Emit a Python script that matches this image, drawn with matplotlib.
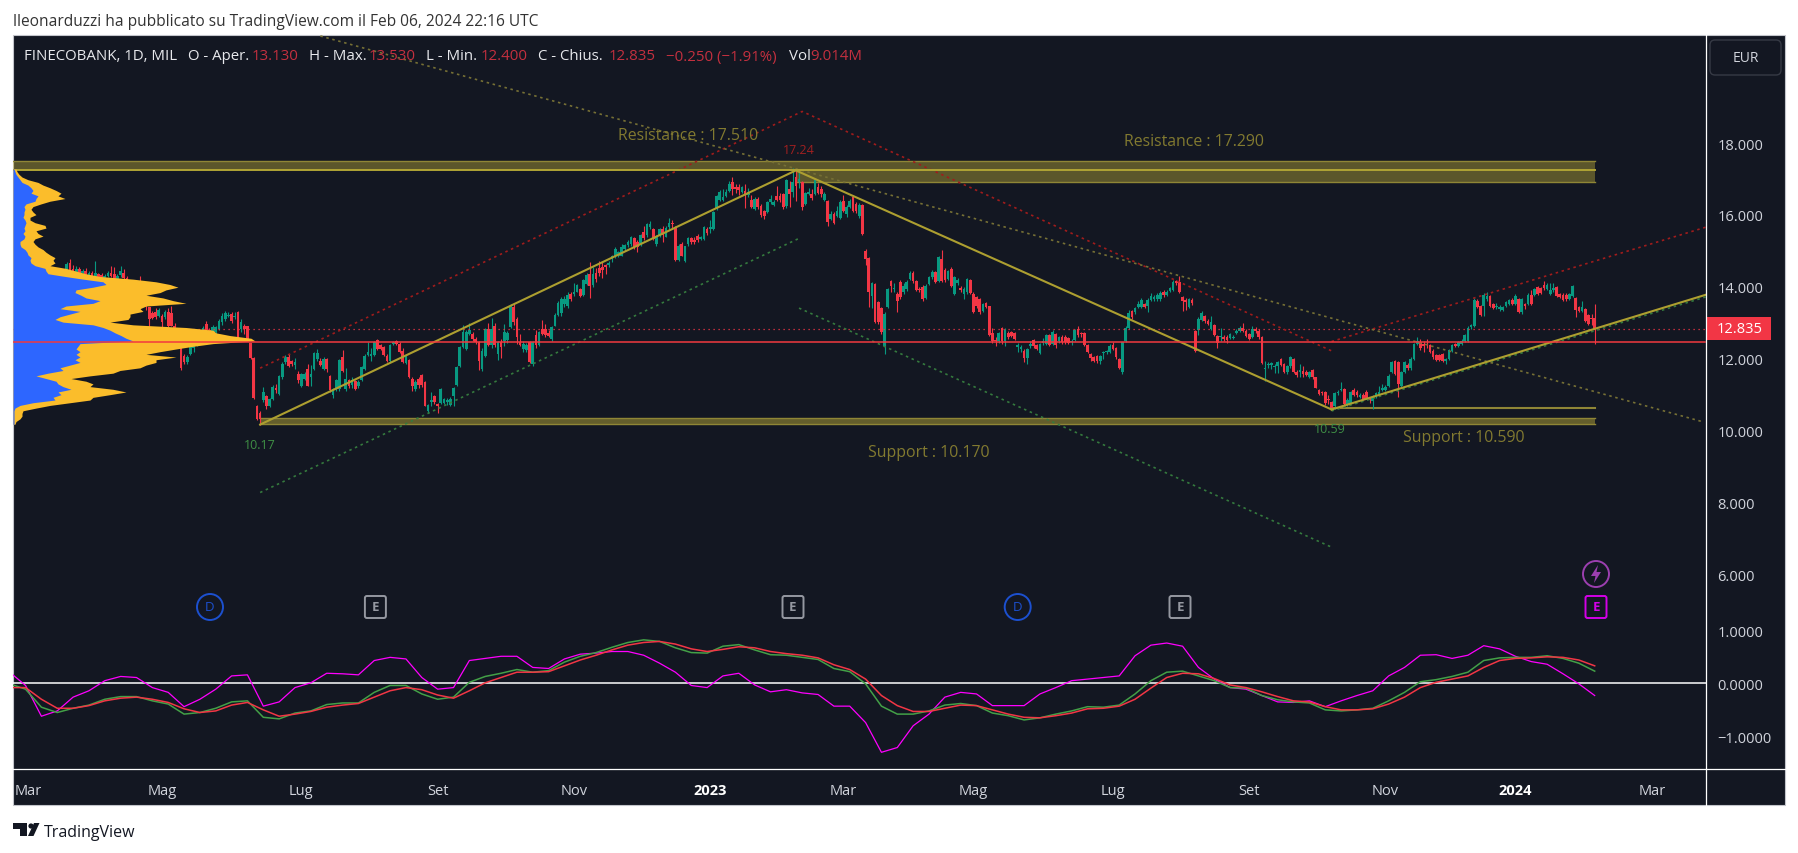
import numpy as np
import matplotlib
matplotlib.use('Agg')
import matplotlib.pyplot as plt
from matplotlib.patches import Rectangle, Circle, FancyBboxPatch, Polygon

W, H = 1798, 854
plt.rcParams['font.family'] = ['Open Sans', 'DejaVu Sans']

# candles, one value per trading day
opens = [
    14.48, 14.67, 14.50, 14.42, 14.50, 14.38, 14.45, 14.30, 14.38, 14.22,
    14.36, 14.34, 14.25, 14.31, 14.40, 14.36, 14.22, 14.33, 14.38, 14.24,
    14.10, 14.15, 13.85, 13.90, 13.75, 13.60, 13.43, 13.28, 13.30, 13.20,
    13.18, 13.16, 13.30, 13.28, 12.92, 12.78, 12.35, 12.09, 11.90, 12.14,
    12.30, 12.40, 12.55, 12.70, 12.97, 12.79, 12.74, 12.74, 12.83, 13.02,
    13.11, 13.20, 13.25, 13.15, 13.30, 12.83, 12.92, 12.90, 12.44, 12.03,
    10.70, 10.50,
    10.84, 10.96, 10.68, 10.87, 11.20, 11.03, 11.49, 11.90, 12.04, 11.95,
    11.84, 11.58, 11.25, 11.44, 11.72, 11.49, 11.72, 12.00, 11.95, 11.72,
    12.00, 11.53, 10.98, 11.16, 11.16, 12.04, 11.16, 11.40, 11.26, 11.37,
    11.24, 11.40, 11.72, 12.10, 12.07, 12.11, 12.53, 12.37, 12.32, 12.09,
    11.95, 12.42, 12.50, 12.42, 12.23, 11.89, 11.97, 11.44, 11.16, 11.44,
    11.55, 11.35, 10.56, 10.79, 10.96, 10.73, 10.77, 10.77, 10.80, 10.72,
    10.96, 11.27, 11.79, 12.32, 12.28, 12.69, 12.69, 12.55, 12.46, 11.72,
    12.09, 12.83, 12.37, 12.92, 12.14, 12.48, 12.50, 12.52, 12.88, 13.43,
    13.11, 12.46, 12.27, 12.25, 12.46, 11.86, 12.65, 12.37, 12.83, 12.83,
    12.72, 12.54, 12.92, 13.22, 13.28, 13.53, 13.48, 13.80, 13.80, 13.87,
    13.93, 13.78, 14.08, 14.36, 14.04, 14.39, 14.52, 14.55, 14.60, 14.61,
    14.78, 14.87, 14.87, 14.87, 15.06, 15.17, 15.20, 15.35, 15.26, 15.20,
    15.54, 15.43, 15.66, 15.61, 15.20, 15.43, 15.60, 15.40, 15.66, 15.77,
    15.66, 14.75, 15.20, 14.73, 15.20, 15.35, 15.31, 15.41, 15.33, 15.33,
    15.61, 15.60, 15.61, 16.17, 16.42, 16.43, 16.54, 16.68, 16.91, 16.77,
    16.77, 16.63, 16.68, 16.56, 16.43, 16.17, 16.45, 16.24, 16.12, 16.08,
    16.37, 16.29, 16.52, 16.54, 16.59, 16.24, 16.73, 16.63, 17.05, 16.91,
    16.91, 16.31, 16.59, 16.59, 16.59, 16.77, 16.73, 16.42, 16.40, 15.89,
    16.03, 15.98, 15.91, 16.40, 16.03, 16.23, 16.51, 16.31, 15.97, 16.28,
    15.01, 14.80, 13.76, 14.08, 13.57, 13.42, 12.35,
    13.43, 14.17, 13.94, 13.80, 14.15, 13.85, 13.94, 14.22, 14.40, 14.17,
    13.94, 14.00, 13.68, 14.08, 14.28, 14.42, 14.17, 14.78, 14.48, 14.22,
    14.50, 13.80, 14.11, 13.98, 13.80, 13.85, 14.19, 13.80, 13.71, 13.66,
    13.34, 13.54, 13.46, 12.72, 12.52, 12.50, 12.85, 12.50, 12.72, 12.74,
    12.72, 12.33, 12.27, 12.23, 12.01, 12.36, 12.52, 12.37, 12.16, 12.45,
    12.41, 12.67, 12.41, 12.69, 12.50, 12.62, 12.62, 12.58, 12.46, 12.52,
    12.83, 12.70, 12.72, 12.38, 12.13, 12.04, 12.07, 11.95, 12.17, 12.19,
    12.20, 12.37, 12.29, 11.99, 11.64, 12.50, 12.85, 13.32, 13.31, 13.43,
    13.43, 13.52, 13.48, 13.64, 13.66, 13.66, 13.66, 13.87, 13.78, 13.88,
    13.91, 14.17, 14.13, 13.73, 13.63, 13.43, 13.63, 12.78, 12.80, 13.09,
    13.18, 13.06, 12.83, 12.94, 12.64, 12.60, 12.62, 12.62, 12.58, 12.58,
    12.73, 12.78, 12.87, 12.78, 12.69, 12.60, 12.83, 12.78, 12.60,
    11.71, 11.82, 11.82, 11.78, 11.80, 12.00, 11.85, 11.62, 11.79, 12.00,
    11.64, 11.62, 11.67, 11.64, 11.50, 11.69, 11.48, 11.13, 11.05, 11.07,
    10.88, 10.80, 10.70, 11.05, 11.13, 11.16, 10.75,
    10.77, 11.14, 11.07, 10.95, 11.00, 11.07, 10.88, 10.83, 10.95, 11.02,
    11.12, 11.13, 11.25, 11.62, 11.95, 11.90, 11.25, 11.62, 11.82, 11.73,
    12.00, 12.41, 12.47, 12.41, 12.42, 12.37, 12.23, 12.10, 12.10, 12.13,
    11.95, 11.99, 12.22, 12.41, 12.36, 12.41, 12.50, 12.50, 12.88, 12.90,
    13.62, 13.46, 13.48, 13.66, 13.74, 13.52, 13.43, 13.38, 13.36, 13.48,
    13.52, 13.64, 13.52, 13.66, 13.29, 13.52, 13.52, 13.78, 13.77, 13.99,
    13.96, 14.05, 13.94, 13.80, 13.92, 13.99, 13.80, 13.78, 13.78, 13.66,
    13.76, 13.68, 13.43, 13.34, 13.38, 13.22, 13.12, 13.13,
]
closes = [
    14.64, 14.48, 14.42, 14.50, 14.38, 14.45, 14.35, 14.38, 14.30, 14.39,
    14.28, 14.22, 14.30, 14.40, 14.31, 14.22, 14.30, 14.43, 14.24, 14.10,
    14.15, 14.00, 13.90, 13.75, 13.60, 13.45, 13.11, 13.13, 13.16, 13.37,
    13.02, 13.30, 12.92, 12.92, 12.78, 12.60, 11.74, 11.90, 12.04, 12.32,
    12.40, 12.55, 12.70, 12.85, 12.79, 12.75, 12.88, 12.88, 13.06, 13.20,
    13.28, 13.22, 13.06, 13.20, 12.60, 13.02, 12.83, 12.55, 12.03, 10.90,
    10.33, 10.33,
    11.07, 10.70, 10.87, 11.21, 11.12, 11.53, 11.86, 12.04, 11.81, 11.86,
    11.90, 11.40, 11.58, 11.58, 11.25, 11.58, 12.16, 12.16, 11.83, 12.00,
    11.72, 11.12, 11.16, 11.40, 11.97, 11.67, 11.44, 11.24, 11.42, 11.15,
    11.35, 11.77, 12.09, 12.20, 12.12, 12.46, 12.28, 12.28, 12.11, 11.95,
    12.37, 12.46, 12.40, 12.18, 11.90, 12.09, 11.49, 11.24, 11.35, 11.26,
    11.26, 10.70, 10.72, 10.84, 10.79, 10.68, 11.16, 10.87, 10.85, 10.87,
    11.20, 11.77, 12.32, 12.74, 12.74, 12.79, 12.55, 12.46, 11.95, 12.23,
    12.83, 12.37, 12.83, 12.37, 12.48, 12.32, 12.74, 12.72, 13.43, 13.02,
    12.60, 12.38, 12.42, 12.38, 11.90, 12.46, 12.37, 12.74, 12.69, 12.66,
    12.63, 12.88, 13.22, 13.55, 13.67, 13.67, 13.78, 13.67, 13.85, 14.06,
    13.76, 14.20, 14.33, 14.02, 14.36, 14.22, 14.39, 14.47, 14.56, 14.67,
    14.85, 15.06, 14.96, 15.10, 15.17, 15.24, 15.38, 15.10, 15.12, 15.45,
    15.35, 15.75, 15.75, 15.33, 15.41, 15.60, 15.45, 15.63, 15.78, 15.75,
    14.75, 15.15, 14.87, 15.13, 15.35, 15.24, 15.24, 15.31, 15.38, 15.66,
    15.50, 15.66, 16.08, 16.52, 16.65, 16.50, 16.65, 16.86, 16.73, 16.71,
    16.70, 16.77, 16.56, 16.65, 16.22, 16.45, 16.22, 16.00, 15.97, 16.35,
    16.45, 16.37, 16.43, 16.43, 16.22, 16.96, 16.59, 16.91, 16.82, 16.99,
    16.22, 16.61, 16.65, 16.47, 16.96, 16.61, 16.59, 16.59, 15.80, 16.03,
    15.78, 16.10, 16.37, 16.10, 16.23, 16.40, 16.12, 16.10, 16.28, 15.47,
    14.78, 13.85, 14.11, 13.02, 13.02, 12.74, 13.25,
    13.94, 14.03, 13.96, 13.60, 13.71, 14.02, 14.15, 14.40, 14.17, 13.91,
    13.90, 13.65, 14.03, 14.27, 14.42, 14.15, 14.82, 14.17, 14.20, 14.45,
    14.02, 14.27, 14.20, 13.90, 13.94, 14.22, 13.83, 13.31, 13.46, 13.29,
    13.52, 13.45, 12.66, 12.50, 12.50, 12.72, 12.50, 12.80, 12.60, 12.63,
    12.55, 12.37, 12.32, 12.01, 12.27, 12.41, 12.35, 12.27, 12.41, 12.50,
    12.67, 12.38, 12.75, 12.37, 12.60, 12.46, 12.46, 12.44, 12.48, 12.80,
    12.66, 12.68, 12.37, 12.18, 12.01, 11.95, 11.95, 12.07, 12.20, 12.22,
    12.35, 12.27, 12.04, 11.74, 12.48, 12.85, 13.27, 13.15, 13.41, 13.52,
    13.64, 13.43, 13.64, 13.74, 13.73, 13.78, 13.83, 13.78, 13.87, 13.96,
    14.14, 14.11, 13.85, 13.62, 13.57, 13.66, 13.54, 12.23, 13.11, 13.27,
    13.06, 12.97, 13.01, 12.66, 12.44, 12.64, 12.55, 12.52, 12.69, 12.62,
    12.78, 12.85, 12.78, 12.64, 12.55, 12.83, 12.78, 12.60, 11.87,
    11.73, 11.86, 11.87, 11.80, 11.92, 11.83, 11.64, 11.80, 12.04, 11.62,
    11.55, 11.69, 11.58, 11.55, 11.62, 11.48, 11.20, 11.02, 11.04, 10.77,
    10.86, 10.62, 11.04, 11.09, 11.15, 10.75, 10.84,
    11.07, 11.00, 11.00, 10.97, 10.88, 10.90, 10.85, 10.93, 11.05, 11.07,
    11.20, 11.22, 11.52, 11.90, 11.58, 11.30, 11.62, 11.90, 11.73, 12.00,
    12.41, 12.50, 12.30, 12.35, 12.37, 12.18, 12.04, 11.98, 11.97, 11.95,
    12.00, 12.24, 12.38, 12.35, 12.46, 12.50, 12.66, 12.85, 12.94, 13.64,
    13.43, 13.22, 13.77, 13.76, 13.48, 13.41, 13.48, 13.43, 13.45, 13.57,
    13.64, 13.52, 13.76, 13.29, 13.66, 13.48, 13.78, 13.52, 13.94, 13.80,
    13.83, 13.96, 14.05, 13.92, 13.96, 13.76, 13.71, 13.64, 13.66, 13.80,
    14.02, 13.36, 13.34, 13.43, 13.06, 12.97, 13.10, 12.835,
]
highs = [
    14.70, 14.78, 14.60, 14.58, 14.55, 14.50, 14.52, 14.45, 14.45, 14.73,
    14.40, 14.40, 14.35, 14.44, 14.57, 14.55, 14.35, 14.58, 14.50, 14.30,
    14.20, 14.20, 14.00, 14.31, 13.80, 13.65, 13.45, 13.32, 13.40, 13.40,
    13.25, 13.35, 13.40, 13.48, 13.00, 12.80, 12.40, 12.12, 12.10, 12.36,
    12.45, 12.60, 12.75, 12.90, 13.05, 12.85, 12.95, 12.92, 13.10, 13.28,
    13.33, 13.30, 13.30, 13.30, 13.32, 13.10, 12.98, 12.92, 12.44, 12.05,
    10.72, 10.55,
    11.21, 11.00, 10.92, 11.26, 11.30, 11.56, 11.90, 12.10, 12.13, 11.98,
    12.02, 11.65, 11.60, 11.62, 11.85, 11.82, 12.20, 12.28, 12.03, 12.05,
    12.02, 11.56, 11.20, 11.45, 12.00, 12.25, 11.75, 11.45, 11.50, 11.42,
    11.40, 11.80, 12.12, 12.48, 12.30, 12.50, 12.56, 12.42, 12.36, 12.12,
    12.40, 12.50, 12.52, 12.46, 12.30, 12.12, 12.00, 11.50, 11.40, 11.50,
    11.58, 11.37, 10.75, 11.07, 11.00, 10.76, 11.18, 10.90, 10.90, 10.95,
    11.22, 11.80, 12.35, 12.95, 12.80, 13.00, 12.75, 12.60, 12.50, 12.30,
    12.86, 13.00, 13.13, 13.00, 12.50, 12.55, 12.96, 12.78, 13.52, 13.55,
    13.15, 12.70, 12.50, 12.45, 12.50, 12.50, 12.80, 12.78, 13.08, 12.98,
    12.80, 12.92, 13.28, 13.60, 13.72, 13.75, 13.85, 13.85, 14.10, 14.08,
    13.97, 14.22, 14.38, 14.70, 14.55, 14.52, 14.72, 14.70, 14.65, 14.72,
    14.90, 15.10, 15.00, 15.20, 15.20, 15.30, 15.42, 15.40, 15.30, 15.48,
    15.70, 15.78, 15.82, 15.65, 15.45, 15.65, 15.70, 15.68, 15.92, 15.85,
    15.68, 15.20, 15.25, 15.15, 15.40, 15.40, 15.38, 15.46, 15.42, 15.70,
    15.66, 15.87, 16.12, 16.56, 16.70, 16.72, 16.72, 16.95, 17.05, 16.85,
    16.85, 16.82, 16.85, 16.75, 16.55, 16.50, 16.50, 16.30, 16.15, 16.40,
    16.55, 16.42, 16.80, 16.60, 16.62, 17.00, 16.95, 17.30, 17.30, 17.24,
    16.95, 16.65, 16.75, 16.72, 17.00, 16.88, 16.80, 16.65, 16.42, 16.10,
    16.08, 16.25, 16.42, 16.55, 16.27, 16.44, 16.55, 16.35, 16.32, 16.30,
    15.05, 14.82, 14.14, 14.10, 13.60, 13.44, 13.30,
    13.97, 14.20, 14.10, 13.85, 14.18, 14.10, 14.20, 14.45, 14.45, 14.20,
    14.00, 14.05, 14.07, 14.30, 14.48, 14.45, 14.86, 15.02, 14.52, 14.48,
    14.55, 14.30, 14.25, 14.03, 14.00, 14.26, 14.22, 13.85, 13.75, 13.70,
    13.56, 13.58, 13.48, 12.85, 12.60, 12.75, 12.88, 12.85, 12.78, 12.78,
    12.75, 12.45, 12.38, 12.26, 12.30, 12.50, 12.55, 12.40, 12.44, 12.58,
    12.70, 12.70, 12.80, 12.72, 12.63, 12.65, 12.65, 12.62, 12.55, 12.83,
    12.90, 12.75, 12.75, 12.42, 12.17, 12.08, 12.10, 12.10, 12.22, 12.25,
    12.40, 12.46, 12.32, 12.02, 12.48, 12.90, 13.35, 13.36, 13.45, 13.60,
    13.68, 13.56, 13.68, 13.83, 13.78, 13.82, 13.88, 13.92, 13.90, 14.00,
    14.18, 14.20, 14.30, 13.76, 13.70, 13.70, 13.70, 12.80, 13.15, 13.33,
    13.22, 13.10, 13.20, 12.97, 12.67, 12.85, 12.66, 12.65, 12.72, 12.66,
    12.82, 12.90, 13.00, 12.82, 12.72, 12.92, 12.88, 12.82, 12.63,
    11.95, 11.90, 11.92, 11.85, 11.95, 12.03, 11.88, 11.83, 12.07, 12.03,
    11.68, 11.85, 11.80, 11.68, 11.65, 11.72, 11.50, 11.17, 11.10, 11.10,
    10.98, 10.83, 11.08, 11.12, 11.35, 11.18, 10.90,
    11.10, 11.20, 11.12, 11.05, 11.05, 11.12, 10.95, 11.00, 11.08, 11.25,
    11.30, 11.26, 11.58, 11.95, 11.98, 11.93, 11.65, 11.93, 11.87, 12.05,
    12.45, 12.60, 12.55, 12.50, 12.55, 12.40, 12.26, 12.14, 12.14, 12.16,
    12.03, 12.28, 12.42, 12.45, 12.50, 12.54, 12.70, 12.90, 12.98, 13.68,
    13.65, 13.50, 13.82, 13.86, 13.78, 13.55, 13.55, 13.50, 13.48, 13.60,
    13.67, 13.68, 13.80, 13.70, 13.70, 13.56, 13.82, 13.90, 13.98, 14.03,
    14.00, 14.16, 14.10, 14.10, 14.12, 14.02, 13.83, 13.82, 13.82, 13.83,
    14.06, 13.72, 13.46, 13.60, 13.41, 13.25, 13.25, 13.53,
]
lows = [
    14.45, 14.45, 14.35, 14.38, 14.30, 14.30, 14.28, 14.25, 14.22, 14.20,
    14.22, 14.18, 14.20, 14.28, 14.27, 14.20, 14.18, 14.28, 14.20, 14.05,
    14.00, 13.90, 13.75, 13.70, 13.50, 13.35, 12.88, 13.10, 13.10, 13.15,
    12.88, 13.10, 12.88, 12.90, 12.75, 12.40, 11.70, 11.85, 11.85, 12.10,
    12.20, 12.35, 12.50, 12.60, 12.75, 12.65, 12.70, 12.70, 12.80, 12.95,
    13.05, 13.15, 13.00, 13.10, 12.55, 12.75, 12.70, 12.50, 12.00, 10.88,
    10.30, 10.17,
    10.80, 10.60, 10.65, 10.85, 11.05, 11.00, 11.45, 11.85, 11.78, 11.80,
    11.72, 11.32, 11.22, 11.40, 11.23, 11.25, 11.70, 11.95, 11.80, 11.68,
    11.62, 11.08, 10.90, 11.10, 11.10, 11.62, 11.10, 11.20, 11.20, 11.13,
    11.20, 11.38, 11.70, 12.08, 11.95, 12.08, 12.25, 12.25, 12.08, 11.92,
    11.90, 12.37, 12.38, 12.15, 11.88, 11.85, 11.47, 11.10, 11.10, 11.20,
    11.22, 10.68, 10.50, 10.68, 10.75, 10.50, 10.75, 10.73, 10.72, 10.70,
    10.70, 11.25, 11.77, 12.30, 12.25, 12.65, 12.50, 12.40, 11.70, 11.65,
    12.05, 12.35, 12.30, 12.33, 11.98, 12.02, 12.35, 12.45, 12.85, 12.95,
    12.42, 12.35, 12.20, 12.18, 11.88, 11.80, 12.30, 12.35, 12.65, 12.62,
    12.60, 12.50, 12.90, 13.20, 13.20, 13.45, 13.40, 13.60, 13.75, 13.85,
    13.72, 13.75, 14.05, 13.68, 14.00, 14.15, 14.30, 14.25, 14.35, 14.55,
    14.70, 14.80, 14.82, 14.85, 15.00, 15.10, 15.15, 15.05, 14.98, 15.15,
    15.30, 15.40, 15.60, 15.30, 15.15, 15.40, 15.25, 15.38, 15.60, 15.62,
    14.72, 14.72, 14.85, 14.70, 15.15, 15.18, 15.18, 15.25, 15.30, 15.30,
    15.45, 15.50, 15.58, 16.15, 16.38, 16.40, 16.50, 16.65, 16.55, 16.60,
    16.55, 16.60, 16.20, 16.50, 16.20, 16.15, 16.18, 15.95, 15.88, 16.05,
    16.30, 16.25, 16.38, 16.35, 16.18, 16.20, 16.22, 16.50, 16.40, 16.75,
    16.15, 16.28, 16.55, 16.42, 16.55, 16.58, 16.50, 16.38, 15.68, 15.85,
    15.75, 15.95, 15.88, 16.08, 15.95, 16.20, 16.08, 16.05, 15.93, 15.45,
    14.60, 13.44, 13.40, 13.00, 12.98, 12.70, 12.12,
    13.40, 13.85, 13.85, 13.30, 13.65, 13.80, 13.88, 14.18, 14.10, 13.88,
    13.85, 13.60, 13.65, 14.05, 14.22, 14.10, 14.13, 14.15, 14.15, 14.18,
    14.00, 13.78, 14.05, 13.85, 13.65, 13.80, 13.80, 13.28, 13.42, 13.25,
    13.30, 13.40, 12.64, 12.45, 12.35, 12.45, 12.42, 12.35, 12.55, 12.60,
    12.52, 12.20, 12.20, 11.90, 11.85, 12.30, 12.30, 12.25, 12.14, 12.38,
    12.38, 12.35, 12.38, 12.30, 12.45, 12.42, 12.42, 12.40, 12.38, 12.50,
    12.62, 12.62, 12.35, 12.15, 11.95, 11.90, 11.88, 11.85, 12.00, 12.12,
    12.15, 12.25, 12.00, 11.72, 11.58, 12.48, 12.83, 13.10, 13.25, 13.40,
    13.40, 13.40, 13.30, 13.60, 13.60, 13.60, 13.62, 13.72, 13.75, 13.85,
    13.88, 14.05, 13.82, 13.33, 13.35, 13.40, 13.50, 12.20, 12.65, 13.05,
    13.00, 12.93, 12.80, 12.63, 12.30, 12.50, 12.50, 12.45, 12.55, 12.55,
    12.68, 12.75, 12.75, 12.60, 12.52, 12.58, 12.72, 12.55, 11.85,
    11.37, 11.75, 11.72, 11.60, 11.60, 11.80, 11.60, 11.58, 11.75, 11.60,
    11.50, 11.50, 11.50, 11.52, 11.47, 11.45, 11.18, 10.98, 10.98, 10.72,
    10.75, 10.59, 10.60, 11.00, 11.10, 10.72, 10.70,
    10.73, 10.97, 10.95, 10.90, 10.85, 10.87, 10.78, 10.60, 10.90, 11.00,
    11.10, 11.10, 11.22, 11.60, 11.55, 10.95, 11.22, 11.60, 11.70, 11.70,
    11.97, 12.38, 12.25, 12.20, 12.30, 12.15, 12.00, 11.95, 11.93, 11.90,
    11.85, 11.96, 12.20, 12.32, 12.33, 12.38, 12.47, 12.47, 12.83, 12.88,
    13.40, 13.20, 13.20, 13.60, 13.45, 13.38, 13.38, 13.33, 13.33, 13.45,
    13.50, 13.50, 13.50, 13.27, 13.25, 13.38, 13.50, 13.50, 13.75, 13.78,
    13.80, 13.92, 13.90, 13.78, 13.85, 13.73, 13.68, 13.60, 13.62, 13.63,
    13.73, 13.15, 13.30, 13.30, 13.03, 12.93, 12.95, 12.40,
]

# levels and line readings
last_price = 12.835
poc_price = 12.48
price_ticks = [18, 16, 14, 12, 10, 8, 6]
ind_ticks = [1, 0, -1]

# date labels, position as bars before the last candle
date_labels = ['Mar', 'Mag', 'Lug', 'Set', 'Nov', '2023', 'Mar', 'Mag', 'Lug', 'Set', 'Nov', '2024', 'Mar']
date_back = [494, 452, 408, 365, 322, 279, 237, 196, 152, 109, 66, 25, -18]

# swing points: bars before the last candle, price
swing_back = [421, 252, 83]
swing_price = [10.17, 17.24, 10.59]
up_end = (-35, 13.78)
red_back = [421, 250, 83]
red_price = [11.74, 18.88, 12.22]
red2_back = [83, -35]
red2_price = [12.48, 15.66]
green1_back = [421, 251]
green1_price = [8.28, 15.35]
green2_back = [251, 83]
green2_price = [13.41, 6.76]
green3_back = [83, -35]
green3_price = [10.55, 13.72]
olive_back = [402, -34]
olive_price = [20.98, 10.25]

# volume profile, top to bottom
vp_high, vp_low = 17.28, 10.18
vp_blue = [1, 2, 3, 5, 7, 9, 15, 18, 20, 18, 25, 23, 22, 13, 11, 12, 11, 11, 10, 12, 13, 12, 11, 12, 10, 12, 11, 7, 7, 8,
           12, 14, 15, 18, 17, 18, 22, 32, 33, 35, 52, 70, 90, 93, 80, 63, 62, 68, 73, 87, 80, 53, 47, 67, 57, 47, 42, 50, 80, 90,
           97, 102, 108, 113, 120, 67, 65, 63, 67, 63, 67, 62, 67, 57, 47, 50, 35, 23, 33, 43, 45, 50, 58, 45, 48, 40, 42, 20, 7, 2,
           1, 1, 1, 1, 1, 1]
vp_total = [3, 4, 6, 9, 15, 25, 30, 37, 43, 48, 45, 52, 37, 28, 20, 18, 20, 23, 17, 17, 22, 32, 33, 23, 25, 30, 22, 20, 22, 25,
            30, 33, 37, 42, 40, 42, 37, 53, 63, 73, 87, 120, 143, 157, 165, 153, 147, 133, 150, 160, 173, 133, 127, 130, 117, 117, 115, 97, 120, 173,
            200, 203, 217, 238, 242, 200, 180, 163, 147, 133, 163, 143, 143, 133, 127, 107, 100, 77, 58, 73, 80, 77, 100, 113, 97, 80, 77, 57, 37, 23,
            10, 9, 9, 7, 3, 2]

# indicator pane, one reading every five bars
ind_magenta = [0.21, -0.04, -0.62, -0.52, -0.26, -0.14, 0.05, 0.13, 0.11, -0.08,
               -0.17, -0.44, -0.30, -0.11, 0.14, 0.16, -0.43, -0.35, -0.08, 0.01,
               0.19, 0.18, 0.16, 0.43, 0.49, 0.46, 0.11, -0.11, -0.08, 0.43,
               0.47, 0.51, 0.51, 0.30, 0.28, 0.46, 0.55, 0.57, 0.60, 0.60,
               0.53, 0.38, 0.21, -0.04, -0.08, 0.14, 0.19, -0.03, -0.16, -0.12,
               -0.18, -0.21, -0.43, -0.43, -0.74, -1.30, -1.21, -0.80, -0.58, -0.26,
               -0.17, -0.20, -0.42, -0.42, -0.42, -0.20, -0.08, 0.05, 0.08, 0.11,
               0.14, 0.52, 0.72, 0.76, 0.70, 0.30, 0.08, -0.08, -0.11, -0.23,
               -0.35, -0.36, -0.33, -0.44, -0.33, -0.23, -0.14, 0.14, 0.30, 0.53,
               0.54, 0.47, 0.53, 0.71, 0.65, 0.51, 0.41, 0.36, 0.18, -0.01, -0.23]
ind_green = [-0.01, -0.11, -0.45, -0.55, -0.47, -0.41, -0.30, -0.25, -0.25, -0.33,
             -0.39, -0.58, -0.55, -0.47, -0.35, -0.33, -0.64, -0.67, -0.56, -0.52,
             -0.40, -0.37, -0.37, -0.17, -0.04, -0.04, -0.20, -0.30, -0.26, 0.02,
             0.13, 0.19, 0.26, 0.21, 0.24, 0.40, 0.51, 0.58, 0.68, 0.77,
             0.82, 0.79, 0.67, 0.58, 0.57, 0.70, 0.73, 0.63, 0.54, 0.53,
             0.49, 0.45, 0.28, 0.22, -0.01, -0.43, -0.58, -0.58, -0.52, -0.41,
             -0.38, -0.42, -0.56, -0.61, -0.69, -0.65, -0.58, -0.52, -0.44, -0.45,
             -0.41, -0.20, 0.05, 0.21, 0.23, 0.14, 0.05, -0.08, -0.09, -0.23,
             -0.31, -0.35, -0.37, -0.50, -0.52, -0.50, -0.47, -0.33, -0.17, 0.03,
             0.07, 0.13, 0.21, 0.43, 0.48, 0.49, 0.49, 0.52, 0.47, 0.38, 0.23]
ind_red = [-0.08, -0.08, -0.30, -0.47, -0.47, -0.42, -0.33, -0.28, -0.26, -0.30,
           -0.36, -0.48, -0.55, -0.52, -0.41, -0.36, -0.50, -0.62, -0.58, -0.53,
           -0.45, -0.41, -0.38, -0.26, -0.14, -0.08, -0.12, -0.22, -0.28, -0.14,
           0.01, 0.11, 0.21, 0.21, 0.22, 0.33, 0.44, 0.53, 0.63, 0.72,
           0.77, 0.79, 0.74, 0.65, 0.60, 0.64, 0.69, 0.67, 0.60, 0.56,
           0.53, 0.48, 0.35, 0.26, 0.08, -0.23, -0.42, -0.53, -0.53, -0.47,
           -0.41, -0.42, -0.50, -0.58, -0.64, -0.65, -0.61, -0.56, -0.48, -0.47,
           -0.43, -0.30, -0.09, 0.11, 0.19, 0.18, 0.09, -0.03, -0.08, -0.16,
           -0.25, -0.33, -0.35, -0.44, -0.50, -0.50, -0.48, -0.39, -0.26, -0.08,
           0.02, 0.08, 0.14, 0.30, 0.43, 0.47, 0.48, 0.50, 0.49, 0.44, 0.33]

assert len(opens) == len(closes) == len(highs) == len(lows), (len(opens), len(closes), len(highs), len(lows))
n = len(opens)
o, c, hi, lo = [np.array(a) for a in (opens, closes, highs, lows)]
last = n - 1
bar_px = 3.17

UP = '#089981'
DOWN = '#f23645'
BG = '#131722'
TXT = '#d1d4dc'
ZONE = '#c9b53a'
ZONE_EDGE = '#8f8636'
TREND = '#ad9f30'


def back(b):
    return last - np.asarray(b)


fig = plt.figure(figsize=(W / 100, H / 100), dpi=100, facecolor='white')


def pane(x0, y0, x1, y1, **kw):
    return fig.add_axes([x0 / W, 1 - y1 / H, (x1 - x0) / W, (y1 - y0) / H], **kw)


# backdrop in pixels
under = fig.add_axes([0, 0, 1, 1], zorder=0)
under.set_xlim(0, W)
under.set_ylim(H, 0)
under.axis('off')
under.add_patch(Rectangle((13, 36), 1772, 770, fc=BG, ec='#c3c5cb', lw=0.8))

ax = pane(13, 36, 1705.5, 627, zorder=1, facecolor='none')
ind = pane(13, 627, 1705.5, 769, zorder=1, facecolor='none')
x_left = last - (1594.7 - 13) / bar_px
x_right = last + (1705.5 - 1594.7) / bar_px
for a in (ax, ind):
    a.set_xlim(x_left, x_right)
    for s in a.spines.values():
        s.set_visible(False)
ax.set_ylim(4.567, 21.007)
ind.set_ylim(-1.596, 1.081)

# zones
ax.axhspan(17.24, 17.51, xmin=0, xmax=(last - x_left) / (x_right - x_left), fc=ZONE, alpha=0.4, ec='none', zorder=2)
ax.plot([x_left, last], [17.51, 17.51], color=ZONE_EDGE, lw=1, zorder=2)
ax.plot([x_left, last], [17.24, 17.24], color='#b0a435', lw=1.4, zorder=5)
ax.fill_between(back([252, 0]), 16.93, 17.24, color=ZONE, alpha=0.4, lw=0, zorder=2)
ax.plot(back([252, 0]), [16.93, 16.93], color=ZONE_EDGE, lw=1, zorder=2)
ax.fill_between(back([421, 0]), 10.19, 10.34, color=ZONE, alpha=0.45, lw=0, zorder=2)
ax.plot(back([421, 0]), [10.34, 10.34], color=ZONE_EDGE, lw=1, zorder=2)
ax.plot(back([421, 0]), [10.19, 10.19], color=ZONE_EDGE, lw=1, zorder=2)
ax.plot(back([83, 0]), [10.62, 10.62], color='#8f8636', lw=1.5, zorder=2)

# candles
idx = np.arange(n)
col = np.where(c >= o, UP, DOWN)
ax.vlines(idx, lo, hi, colors=col, lw=0.8, zorder=3)
ax.bar(idx, np.maximum(np.abs(c - o), 0.03), bottom=np.minimum(o, c), width=0.85, color=col, lw=0, zorder=3)

# dotted guides
dots = (0, (1.5, 2.2))
ax.plot([x_left, x_right], [last_price, last_price], color=DOWN, lw=0.9, ls=(0, (1, 3)), zorder=3)
ax.plot(back(red_back), red_price, color='#a01c1c', lw=1.2, ls=dots, zorder=3)
ax.plot(back(red2_back), red2_price, color='#a01c1c', lw=1.2, ls=dots, zorder=3)
ax.plot(back(green1_back), green1_price, color='#357a3e', lw=1.2, ls=dots, zorder=3)
ax.plot(back(green2_back), green2_price, color='#357a3e', lw=1.2, ls=dots, zorder=3)
ax.plot(back(green3_back), green3_price, color='#357a3e', lw=1.2, ls=dots, zorder=3)
ax.plot(back(olive_back), olive_price, color='#767035', lw=1.2, ls=dots, zorder=3)

# solid trend lines
ax.plot(back(swing_back), swing_price, color=TREND, lw=1.5, zorder=4)
ax.plot(back([swing_back[2], up_end[0]]), [swing_price[2], up_end[1]], color=TREND, lw=1.5, zorder=4)

# volume profile, widths are in screen pixels
vp_levels = np.linspace(vp_high, vp_low, len(vp_total))
ax.fill_betweenx(vp_levels, x_left, x_left + np.array(vp_total) / bar_px, color='#fbbd2b', lw=0, zorder=5)
ax.fill_betweenx(vp_levels, x_left, x_left + np.array(vp_blue) / bar_px, color='#2d66ff', lw=0, zorder=5)

ax.plot([x_left, x_right], [poc_price, poc_price], color='#f2393f', lw=1.1, zorder=6)

# price scale
ax.yaxis.tick_right()
ax.set_yticks(price_ticks)
ax.set_yticklabels([f'{v:.3f}' for v in price_ticks])
ax.tick_params(axis='y', length=0, pad=8.5, labelcolor=TXT, labelsize=10.5)
ax.set_xticks([])

frac_w = 65.5 / 1692.5
ax.add_patch(Rectangle((1.0, last_price - 0.32), frac_w, 0.64, transform=ax.get_yaxis_transform(),
                       fc=DOWN, ec='none', clip_on=False, zorder=7))
ax.text(1 + 11.5 / 1692.5, last_price, f'{last_price:.3f}', transform=ax.get_yaxis_transform(),
        color='white', fontsize=10.5, va='center', ha='left', zorder=8, fontweight='medium')

# indicator pane
ind.axhline(0, color='white', lw=1.1, zorder=2)
ind_x = last - 5 * (len(ind_green) - 1 - np.arange(len(ind_green)))
ind.plot(ind_x, ind_magenta, color='#ff00ff', lw=0.9, zorder=3)
ind.plot(ind_x, ind_green, color='#43a047', lw=1.1, zorder=4)
ind.plot(ind_x, ind_red, color='#f23645', lw=1.1, zorder=5)
ind.yaxis.tick_right()
ind.set_yticks(ind_ticks)
ind.set_yticklabels(['1.0000', '0.0000', '\u22121.0000'])
ind.tick_params(axis='y', length=0, pad=8.5, labelcolor=TXT, labelsize=10.5)
ind.set_xticks(back(date_back))
ind.set_xticklabels(date_labels)
ind.tick_params(axis='x', length=0, pad=10.5, labelcolor=TXT, labelsize=10.5)
for t in ind.get_xticklabels():
    if t.get_text().isdigit():
        t.set_fontweight('bold')
        t.set_color('white')

# chrome in pixels
over = fig.add_axes([0, 0, 1, 1], zorder=3, facecolor='none')
over.set_xlim(0, W)
over.set_ylim(H, 0)
over.axis('off')
over.plot([1705.5, 1705.5], [36, 806], color='white', lw=0.9)
over.plot([13, 1785], [769.5, 769.5], color='white', lw=0.9)

over.text(13, 22, 'lleonarduzzi ha pubblicato su TradingView.com il Feb 06, 2024 22:16 UTC',
          color='#333333', fontsize=11.2, va='center')

leg_white = [('FINECOBANK, 1D, MIL', 24), ('O - Aper.', 188), ('H - Max.', 309), ('L - Min.', 426.5),
             ('C - Chius.', 538.5), ('Vol', 789)]
leg_red = [('13.130', 252), ('13.530', 369), ('12.400', 481), ('12.835', 608.5),
           ('\u22120.250 (\u22121.91%)', 666), ('9.014M', 810.6)]
for s, x in leg_white:
    over.text(x, 57, s, color='#e8e9ed', fontsize=10.8, va='center')
for s, x in leg_red:
    over.text(x, 57, s, color='#c4303f', fontsize=10.8, va='center')

over.add_patch(FancyBboxPatch((1713, 44), 65, 29, boxstyle='round,pad=3,rounding_size=5',
                              fc=BG, ec='#363a45', lw=1))
over.text(1745.5, 58.5, 'EUR', color=TXT, fontsize=10, ha='center', va='center')

label = '#827a30'
over.text(688, 135.5, 'Resistance : 17.510', color=label, fontsize=11.4, ha='center', va='center')
over.text(1194, 142.5, 'Resistance : 17.290', color=label, fontsize=11.4, ha='center', va='center')
over.text(929, 453.5, 'Support : 10.170', color=label, fontsize=11.4, ha='center', va='center')
over.text(1464, 438.5, 'Support : 10.590', color=label, fontsize=11.4, ha='center', va='center')
over.text(799, 150, '17.24', color='#a02020', fontsize=9, ha='center', va='center')
over.text(260, 446, '10.17', color='#3f8f45', fontsize=9, ha='center', va='center')
over.text(1330, 430, '10.59', color='#3f8f45', fontsize=9, ha='center', va='center')

# event markers
for mx in (210, 1017.7):
    over.add_patch(Circle((mx, 608), 13, fc=BG, ec='#1c50d0', lw=1.4))
    over.text(mx, 608, 'D', color='#1c50d0', fontsize=9.5, ha='center', va='center')
for mx, mc in ((375.4, '#9598a1'), (793, '#9598a1'), (1180, '#9598a1'), (1596, '#d400e8')):
    over.add_patch(FancyBboxPatch((mx - 10.5, 597), 21, 22, boxstyle='round,pad=0,rounding_size=2',
                                  fc=BG, ec=mc, lw=1.4))
    over.text(mx, 608, 'E', color=mc, fontsize=9.5, ha='center', va='center', fontweight='bold')
over.add_patch(Circle((1596, 575), 13, fc=BG, ec='#9c3fb0', lw=1.4))
over.add_patch(Polygon([(1598, 566), (1591, 577), (1595.5, 577), (1594, 584), (1601, 573), (1596.5, 573)],
                       fc='#9c3fb0', ec='none'))

# TradingView logo
logo = '#131722'
over.add_patch(Polygon([(13, 824), (27, 824), (27, 837), (20, 837), (20, 830), (13, 830)], fc=logo, ec='none'))
over.add_patch(Circle((31, 827), 2.6, fc=logo, ec='none'))
over.add_patch(Polygon([(34, 824), (39.5, 824), (33.5, 837), (28, 837)], fc=logo, ec='none'))
over.text(44, 833, 'TradingView', color='#131722', fontsize=11.5, va='center')

fig.savefig('out.png', dpi=100, facecolor='white')
